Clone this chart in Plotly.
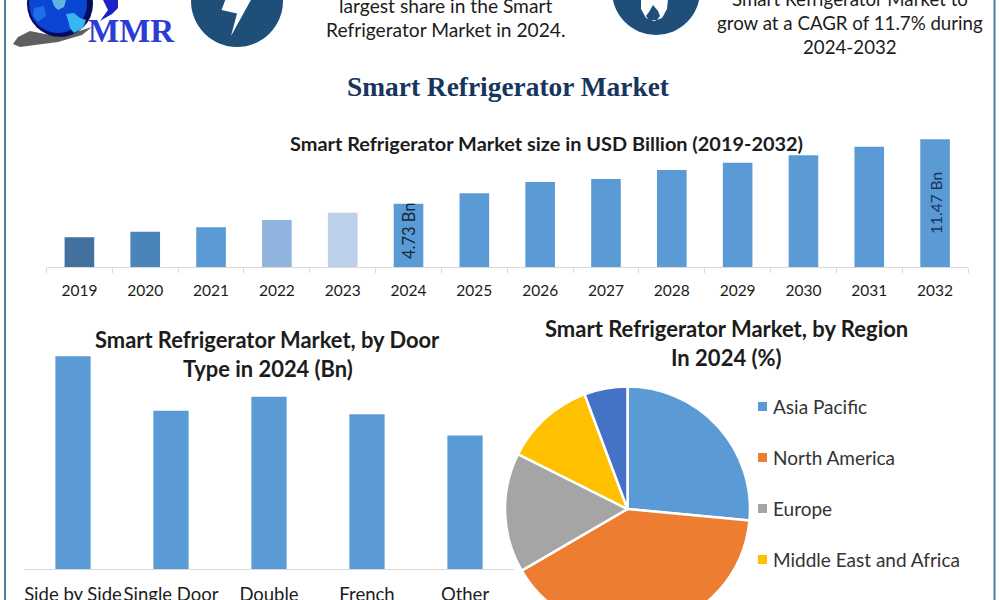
import plotly.graph_objects as go

# Market size series (USD Bn)
years = ["2019", "2020", "2021", "2022", "2023", "2024", "2025", "2026", "2027", "2028", "2029", "2030", "2031", "2032"]
market_size = [1.21, 1.80, 2.26, 3.02, 3.79, 4.73, 5.82, 7.00, 7.31, 8.26, 9.02, 9.80, 10.70, 11.47]
year_colors = ["#41719C", "#4A84BA", "#5B9BD5", "#8FB4DD", "#BDD0E9"] + ["#5B9BD5"] * 9
size_axis_floor = -1.89
size_axis_top = 12.44

# Door type split for 2024 (USD Bn)
door_types = ["Side by Side", "Single Door", "Double", "French", "Other"]
door_values = [1.21, 0.90, 0.98, 0.88, 0.76]

# Regional split for 2024 (%)
regions = ["Asia Pacific", "North America", "Europe", "Middle East and Africa", "South America"]
region_share = [26.5, 40.1, 15.8, 11.9, 5.7]
region_colors = ["#5B9BD5", "#ED7D31", "#A5A5A5", "#FFC000", "#4472C4"]

W, H = 1000, 660
SANS = "Lato"
SERIF = "Liberation Serif"
INK = "#1c1c1c"
ICON = "#1F4E79"


def px(x):
    return x / W


def py(y):
    return 1 - y / H


def note(text, x, y, size, family=SANS, color=INK, angle=0):
    return dict(text=text, x=px(x), y=py(y), xref="paper", yref="paper", showarrow=False,
                xanchor="center", yanchor="middle", textangle=angle,
                font=dict(size=size, family=family, color=color))


def disc(cx, cy, r, color):
    return dict(type="circle", xref="paper", yref="paper", x0=px(cx - r), x1=px(cx + r),
                y0=py(cy + r), y1=py(cy - r), fillcolor=color, line_width=0, layer="above")


def outline(points, color):
    path = "M " + " L ".join(f"{px(a):.5f},{py(b):.5f}" for a, b in points) + " Z"
    return dict(type="path", xref="paper", yref="paper", path=path, fillcolor=color, line_width=0, layer="above")


fig = go.Figure()

fig.add_trace(go.Bar(
    x=years, y=[v - size_axis_floor for v in market_size], base=size_axis_floor,
    marker=dict(color=year_colors, line_width=0), xaxis="x", yaxis="y", showlegend=False,
))
fig.add_trace(go.Bar(
    x=door_types, y=door_values, marker=dict(color="#5B9BD5", line_width=0),
    xaxis="x2", yaxis="y2", showlegend=False,
))
fig.add_trace(go.Pie(
    labels=regions, values=region_share, sort=False, direction="clockwise", rotation=0,
    marker=dict(colors=region_colors, line=dict(color="white", width=2.5)), textinfo="none",
    domain=dict(x=[px(505), px(750)], y=[py(631.5), py(386.5)]), showlegend=False,
))

annotations = [
    note("<b>Smart Refrigerator Market</b>", 508, 87, 27.4, SERIF, "#17365D"),
    note("<b>Smart Refrigerator Market size in USD Billion (2019-2032)</b>", 546, 142.5, 19.9),
    note("<b>Smart Refrigerator Market, by Door</b>", 267.5, 339, 21.9),
    note("<b>Type in 2024 (Bn)</b>", 267.5, 368, 21.9),
    note("<b>Smart Refrigerator Market, by Region</b>", 726, 328.5, 22),
    note("<b>In 2024 (%)</b>", 726, 357.5, 22),
    note("largest share in the Smart", 445.5, 6, 19.2),
    note("Refrigerator Market in 2024.", 445.5, 30, 19.2),
    note("Smart Refrigerator Market to", 850, -1, 18.7),
    note("grow at a CAGR of 11.7% during", 850, 23, 18.7),
    note("2024-2032", 850, 47, 18.7),
    note("<b>MMR</b>", 131.5, 31, 33, SERIF, "#2B3BD6"),
    note(f"{market_size[5]} Bn", 408.5, 230.5, 16.5, SANS, "#14283c", -90),
    note(f"{market_size[13]} Bn", 936, 203, 15.5, SANS, "#17375e", -90),
]

shapes = [
    # page frame
    dict(type="line", xref="paper", yref="paper", x0=px(5), x1=px(5), y0=0, y1=1,
         line=dict(color="#4F7F9F", width=2)),
    dict(type="line", xref="paper", yref="paper", x0=px(994.5), x1=px(994.5), y0=0, y1=1,
         line=dict(color="#4F7F9F", width=2)),
    # logo: swoosh, globe and hook
    outline([(13, 44), (18, 37), (30, 31), (45, 34), (60, 37), (92, 27), (82, 35), (58, 42),
             (35, 45), (20, 47)], "#5f5f5f"),
    disc(60, 4, 33, "#030C5E"),
    disc(58, 4, 29, "#0A46D2"),
    outline([(66, 14), (74, 13), (80, 18), (86, 20), (83, 28), (74, 33), (70, 28), (68, 20)], "#38B6F2"),
    outline([(52, 0), (66, 0), (64, 7), (58, 10), (54, 6)], "#5FB4E4"),
    outline([(34, 8), (44, 6), (46, 16), (38, 22), (33, 16)], "#1F6FE8"),
    outline([(103, 0), (118, 0), (118, 8), (112, 14), (100, 21), (108, 10)], "#1B22C8"),
    # left icon: bolt in a disc
    disc(237, 1, 46, ICON),
    outline([(226, -2), (221.5, 10), (237, 13.5), (231, 36), (252, -2)], "white"),
    # right icon: flame in a disc
    disc(656, -9, 44, ICON),
    outline([(641, -1), (668, -1), (667, 9), (662, 18), (654, 21), (646, 18), (641, 9)], "white"),
    outline([(653, 5), (658, 11), (660, 16), (657, 20), (649, 20), (646, 16), (649, 12)], ICON),
]

# Region key drawn beside the pie
key_y = [406.5, 457.5, 508.5, 559.5, 610.5]
for name, colour, y in zip(regions, region_colors, key_y):
    shapes.append(dict(type="rect", xref="paper", yref="paper", x0=px(758), x1=px(767),
                       y0=py(y + 4.5), y1=py(y - 4.5), fillcolor=colour, line_width=0))
    annotations.append(dict(text=name, x=px(771), y=py(y), xref="paper", yref="paper", showarrow=False,
                            xanchor="left", yanchor="middle",
                            font=dict(size=19, family=SANS, color="#333333")))

fig.update_layout(
    width=W, height=H, margin=dict(l=0, r=0, t=0, b=0), paper_bgcolor="white", plot_bgcolor="white",
    barmode="overlay", annotations=annotations, shapes=shapes, showlegend=False,
    xaxis=dict(domain=[px(46.5), px(968)], type="category", categoryorder="array", categoryarray=years,
               tickson="boundaries", ticks="outside", ticklen=5, tickcolor="#D9D9D9", showgrid=False,
               showline=True, linecolor="#D9D9D9", linewidth=1, zeroline=False, tickangle=0,
               tickfont=dict(size=15.5, family=SANS, color=INK), ticklabelstandoff=9, anchor="y"),
    yaxis=dict(domain=[py(267), py(130)], range=[size_axis_floor, size_axis_top], visible=False, anchor="x"),
    xaxis2=dict(domain=[px(24), px(514)], type="category", categoryorder="array", categoryarray=door_types,
                ticks="", showgrid=False, showline=True, linecolor="#D9D9D9", linewidth=1, zeroline=False,
                tickangle=0, tickfont=dict(size=18.5, family=SANS, color=INK), ticklabelstandoff=9, anchor="y2"),
    yaxis2=dict(domain=[py(569), py(340.5)], range=[0, 1.3], visible=False, anchor="x2"),
    bargap=0.55,
)
fig.update_traces(width=0.45, selector=dict(xaxis="x"))
fig.update_traces(width=0.36, selector=dict(xaxis="x2"))

fig.write_html("out.html", post_script="document.documentElement.style.overflow='hidden';document.body.style.overflow='hidden';")
